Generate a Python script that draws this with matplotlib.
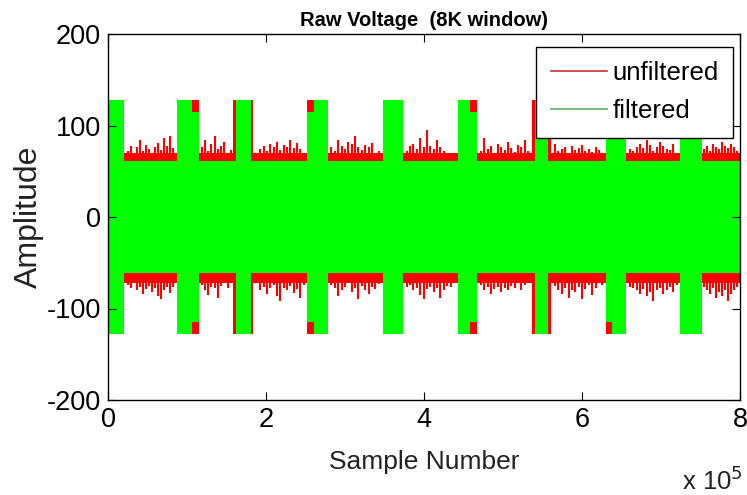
import numpy as np
import matplotlib
matplotlib.use('Agg')
from matplotlib import pyplot as plt
from matplotlib.lines import Line2D
from matplotlib.ticker import FuncFormatter

plt.rcParams['font.family'] = ['Liberation Sans', 'DejaVu Sans']
plt.rcParams['axes.unicode_minus'] = False

# pulse extents in samples (x 1e5), unfiltered (red) and filtered (green)
red_start = [0.000, 0.876, 1.586, 2.525, 3.477, 4.429, 5.368, 6.307, 7.246]
red_end = [0.203, 1.155, 1.840, 2.779, 3.731, 4.670, 5.609, 6.561, 7.513]
green_start = [0.000, 0.876, 1.618, 2.602, 3.477, 4.429, 5.400, 6.383, 7.246]
green_end = [0.203, 1.066, 1.808, 2.779, 3.731, 4.581, 5.567, 6.561, 7.513]
green_shoulder = [128, 115, 61, 115, 128, 115, 61, 115, 128]
pulse_level = 128
green_level = 61
red_body_top = 70
red_body_bottom = -72

# spike peaks of the unfiltered signal between pulses
red_upper = [
    [72, 78, 70, 76, 84, 72, 79, 74, 70, 77, 81, 73, 86, 78, 88, 75],
    [76, 84, 72, 80, 88, 74, 78, 82, 70, 73],
    [70, 74, 78, 72, 80, 76, 82, 73, 79, 77, 84, 75, 81, 74, 70],
    [76, 72, 84, 78, 74, 82, 80, 88, 76, 73, 79, 77, 81, 70, 72],
    [72, 78, 80, 74, 86, 76, 95, 78, 74, 84, 76, 72, 68, 66, 64],
    [72, 86, 74, 78, 70, 80, 76, 73, 82, 75, 71, 79, 77, 84, 72],
    [80, 72, 74, 76, 70, 78, 73, 75, 79, 72, 74, 71, 76, 73, 70],
    [74, 72, 77, 80, 75, 84, 79, 72, 76, 82, 78, 74, 73, 80, 70],
    [74, 78, 72, 80, 76, 74, 82, 78, 75, 80, 77, 72],
]
red_lower = [
    [-74, -78, -72, -80, -76, -84, -79, -75, -82, -78, -86, -90, -80, -77, -83, -76],
    [-74, -80, -85, -76, -78, -88, -75, -72, -78, -70],
    [-72, -80, -76, -84, -78, -74, -86, -92, -78, -80, -75, -83, -79, -88, -74],
    [-74, -78, -86, -80, -76, -72, -82, -78, -90, -75, -80, -84, -77, -79, -73],
    [-76, -74, -80, -78, -85, -90, -79, -76, -82, -78, -88, -80, -75, -77, -72],
    [-74, -80, -77, -84, -79, -76, -82, -78, -80, -75, -78, -72, -80, -74, -70],
    [-75, -80, -84, -78, -88, -80, -82, -76, -90, -79, -74, -85, -78, -72, -74],
    [-76, -78, -80, -84, -79, -86, -82, -92, -80, -78, -84, -80, -76, -82, -74],
    [-76, -80, -84, -78, -88, -82, -86, -80, -92, -84, -80, -76],
]
x_max = 8.0

RED = '#ff0000'
GREEN = '#00ff00'


def envelope(segments):
    xs, ys = [], []
    for x0, x1, lev in segments:
        xs += [x0, x1]
        ys += [lev, lev]
    return np.array(xs) * 1e5, np.array(ys)


fig = plt.figure(figsize=(7.47, 4.95), dpi=100)
ax = fig.add_axes([108 / 747, 1 - 400 / 495, 632 / 747, 366 / 495])

# unfiltered: pulses + noisy body in the gaps
red_segs_top, red_segs_bot = [], []
gaps = []
for i in range(len(red_start)):
    nxt = red_start[i + 1] if i + 1 < len(red_start) else x_max
    gaps.append((red_end[i], nxt))
    red_segs_top += [(red_start[i], red_end[i], pulse_level),
                     (red_end[i], nxt, red_body_top)]
    red_segs_bot += [(red_start[i], red_end[i], -pulse_level),
                     (red_end[i], nxt, red_body_bottom)]
rx, ry_top = envelope(red_segs_top)
_, ry_bot = envelope(red_segs_bot)
ax.fill_between(rx, ry_bot, ry_top, color=RED, lw=0)
for (g0, g1), up, lo in zip(gaps, red_upper, red_lower):
    m = (g1 - g0) * 0.07
    xs = np.linspace(g0 + m, g1 - m, len(up)) * 1e5
    ax.vlines(xs, red_body_top - 2, up, color=RED, lw=1.5)
    ax.vlines(xs, lo, red_body_bottom + 2, color=RED, lw=1.5)

# filtered: pulses with shoulders, flat band in the gaps
green_segs = []
for i in range(len(green_start)):
    nxt = red_start[i + 1] if i + 1 < len(red_start) else x_max
    green_segs += [(red_start[i], green_start[i], green_shoulder[i]),
                   (green_start[i], green_end[i], pulse_level),
                   (green_end[i], red_end[i], green_shoulder[i]),
                   (red_end[i], nxt, green_level)]
gx, gy = envelope(green_segs)
ax.fill_between(gx, -gy, gy, color=GREEN, lw=0)

ax.set_xlim(0, 8e5)
ax.set_ylim(-200, 200)
ax.set_xticks([0, 2e5, 4e5, 6e5, 8e5])
ax.set_yticks([-200, -100, 0, 100, 200])
ax.xaxis.set_major_formatter(FuncFormatter(lambda v, p: '%d' % round(v / 1e5)))
ax.tick_params(direction='in', length=6, width=0.8, top=True, right=True,
               labelsize=19.5, pad=5, colors='black')
for s in ax.spines.values():
    s.set_linewidth(1.0)

ax.set_title('Raw Voltage  (8K window)', fontsize=14.5, fontweight='bold', pad=6)
ax.set_xlabel('Sample Number', fontsize=19, labelpad=12, color='#222222')
ax.set_ylabel('Amplitude', fontsize=23, color='#222222')
ax.yaxis.set_label_coords((44 - 108) / 632, 0.5)
fig.text(682 / 747, 1 - 490 / 495, r'x 10$^{5}$', fontsize=18.5, color='#222222')

handles = [Line2D([], [], color='#c83232', lw=1.2),
           Line2D([], [], color='#5fae5f', lw=1.2)]
leg = ax.legend(handles, ['unfiltered', 'filtered'], loc='upper right',
                bbox_to_anchor=(733 / 747, 1 - 47 / 495), bbox_transform=fig.transFigure,
                fontsize=18.6, fancybox=False, framealpha=1, edgecolor='black',
                handlelength=2.2, handletextpad=0.2, borderpad=0.55,
                labelspacing=0.55, borderaxespad=0)
leg.get_frame().set_linewidth(1.0)

plt.savefig('out.png', dpi=100)
